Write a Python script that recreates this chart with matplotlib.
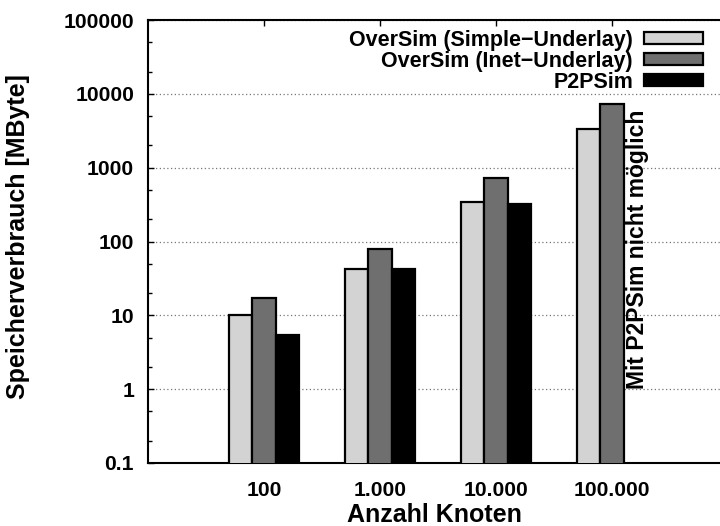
import matplotlib.pyplot as plt
import numpy as np

plt.rcParams['font.family'] = ['Liberation Sans', 'DejaVu Sans']
plt.rcParams['font.weight'] = 'bold'
plt.rcParams['axes.labelweight'] = 'bold'

# Anzahl Knoten
nodes = ["100", "1.000", "10.000", "100.000"]
# Speicherverbrauch in MByte
simple_underlay = [10, 42, 340, 3300]
inet_underlay = [17, 80, 735, 7200]
p2psim = [5.5, 42, 325, np.nan]   # 100.000 not possible with P2PSim

series_names = ["OverSim (Simple\u2212Underlay)", "OverSim (Inet\u2212Underlay)", "P2PSim"]
colors = ["#d3d3d3", "#6f6f6f", "#000000"]

y_ticks = [0.1, 1, 10, 100, 1000, 10000, 100000]
y_labels = ["0.1", "1", "10", "100", "1000", "10000", "100000"]

fig = plt.figure(figsize=(7.2, 5.26), dpi=100)
ax = fig.add_axes([148 / 720, 1 - 463 / 526, 572 / 720, 443 / 526])

x = np.arange(len(nodes))
w = 0.2
for i, (vals, name, c) in enumerate(zip([simple_underlay, inet_underlay, p2psim], series_names, colors)):
    ax.bar(x + (i - 1) * w, vals, w, color=c, edgecolor="black", linewidth=1.6,
           label=name, zorder=3)

ax.set_yscale("log")
ax.set_ylim(0.1, 100000)
ax.set_xlim(-1, 3.93)
ax.set_yticks(y_ticks)
ax.set_yticklabels(y_labels)
ax.yaxis.set_minor_locator(plt.matplotlib.ticker.LogLocator(base=10, subs=(2, 5)))
ax.yaxis.set_minor_formatter(plt.matplotlib.ticker.NullFormatter())
ax.tick_params(axis="y", which="major", direction="in", length=4, width=1, labelsize=15.2, pad=10)
ax.tick_params(axis="y", which="minor", direction="in", length=3, width=1)
ax.set_xticks(x)
ax.set_xticklabels(nodes)
ax.tick_params(axis="x", direction="in", length=4, width=1, labelsize=15.2, pad=13,
               top=True, bottom=False)

ax.grid(axis="y", which="major", linestyle=(0, (1, 2)), color="#777777", linewidth=0.9, zorder=0)

for s in ["left", "top", "bottom"]:
    ax.spines[s].set_linewidth(1.5)
ax.spines["right"].set_visible(False)

ax.set_xlabel("Anzahl Knoten", fontsize=18)
ax.xaxis.set_label_coords(0.5, -0.09)
ax.set_ylabel("Speicherverbrauch [MByte]", fontsize=18)
ax.yaxis.set_label_coords(-0.207, 0.511)

ax.text(3.22, 1, "Mit P2PSim nicht m\u00f6glich", rotation=90, ha="center", va="bottom",
        fontsize=16.5, zorder=4)

ax.legend(loc="upper right", bbox_to_anchor=(703 / 720, 1 - 30 / 526), bbox_transform=fig.transFigure,
          frameon=False, markerfirst=False, fontsize=15.5, handlelength=2.75, handleheight=0.5,
          labelspacing=0.0, borderpad=0, borderaxespad=0, handletextpad=0.5)

fig.savefig("out.png", dpi=100)
